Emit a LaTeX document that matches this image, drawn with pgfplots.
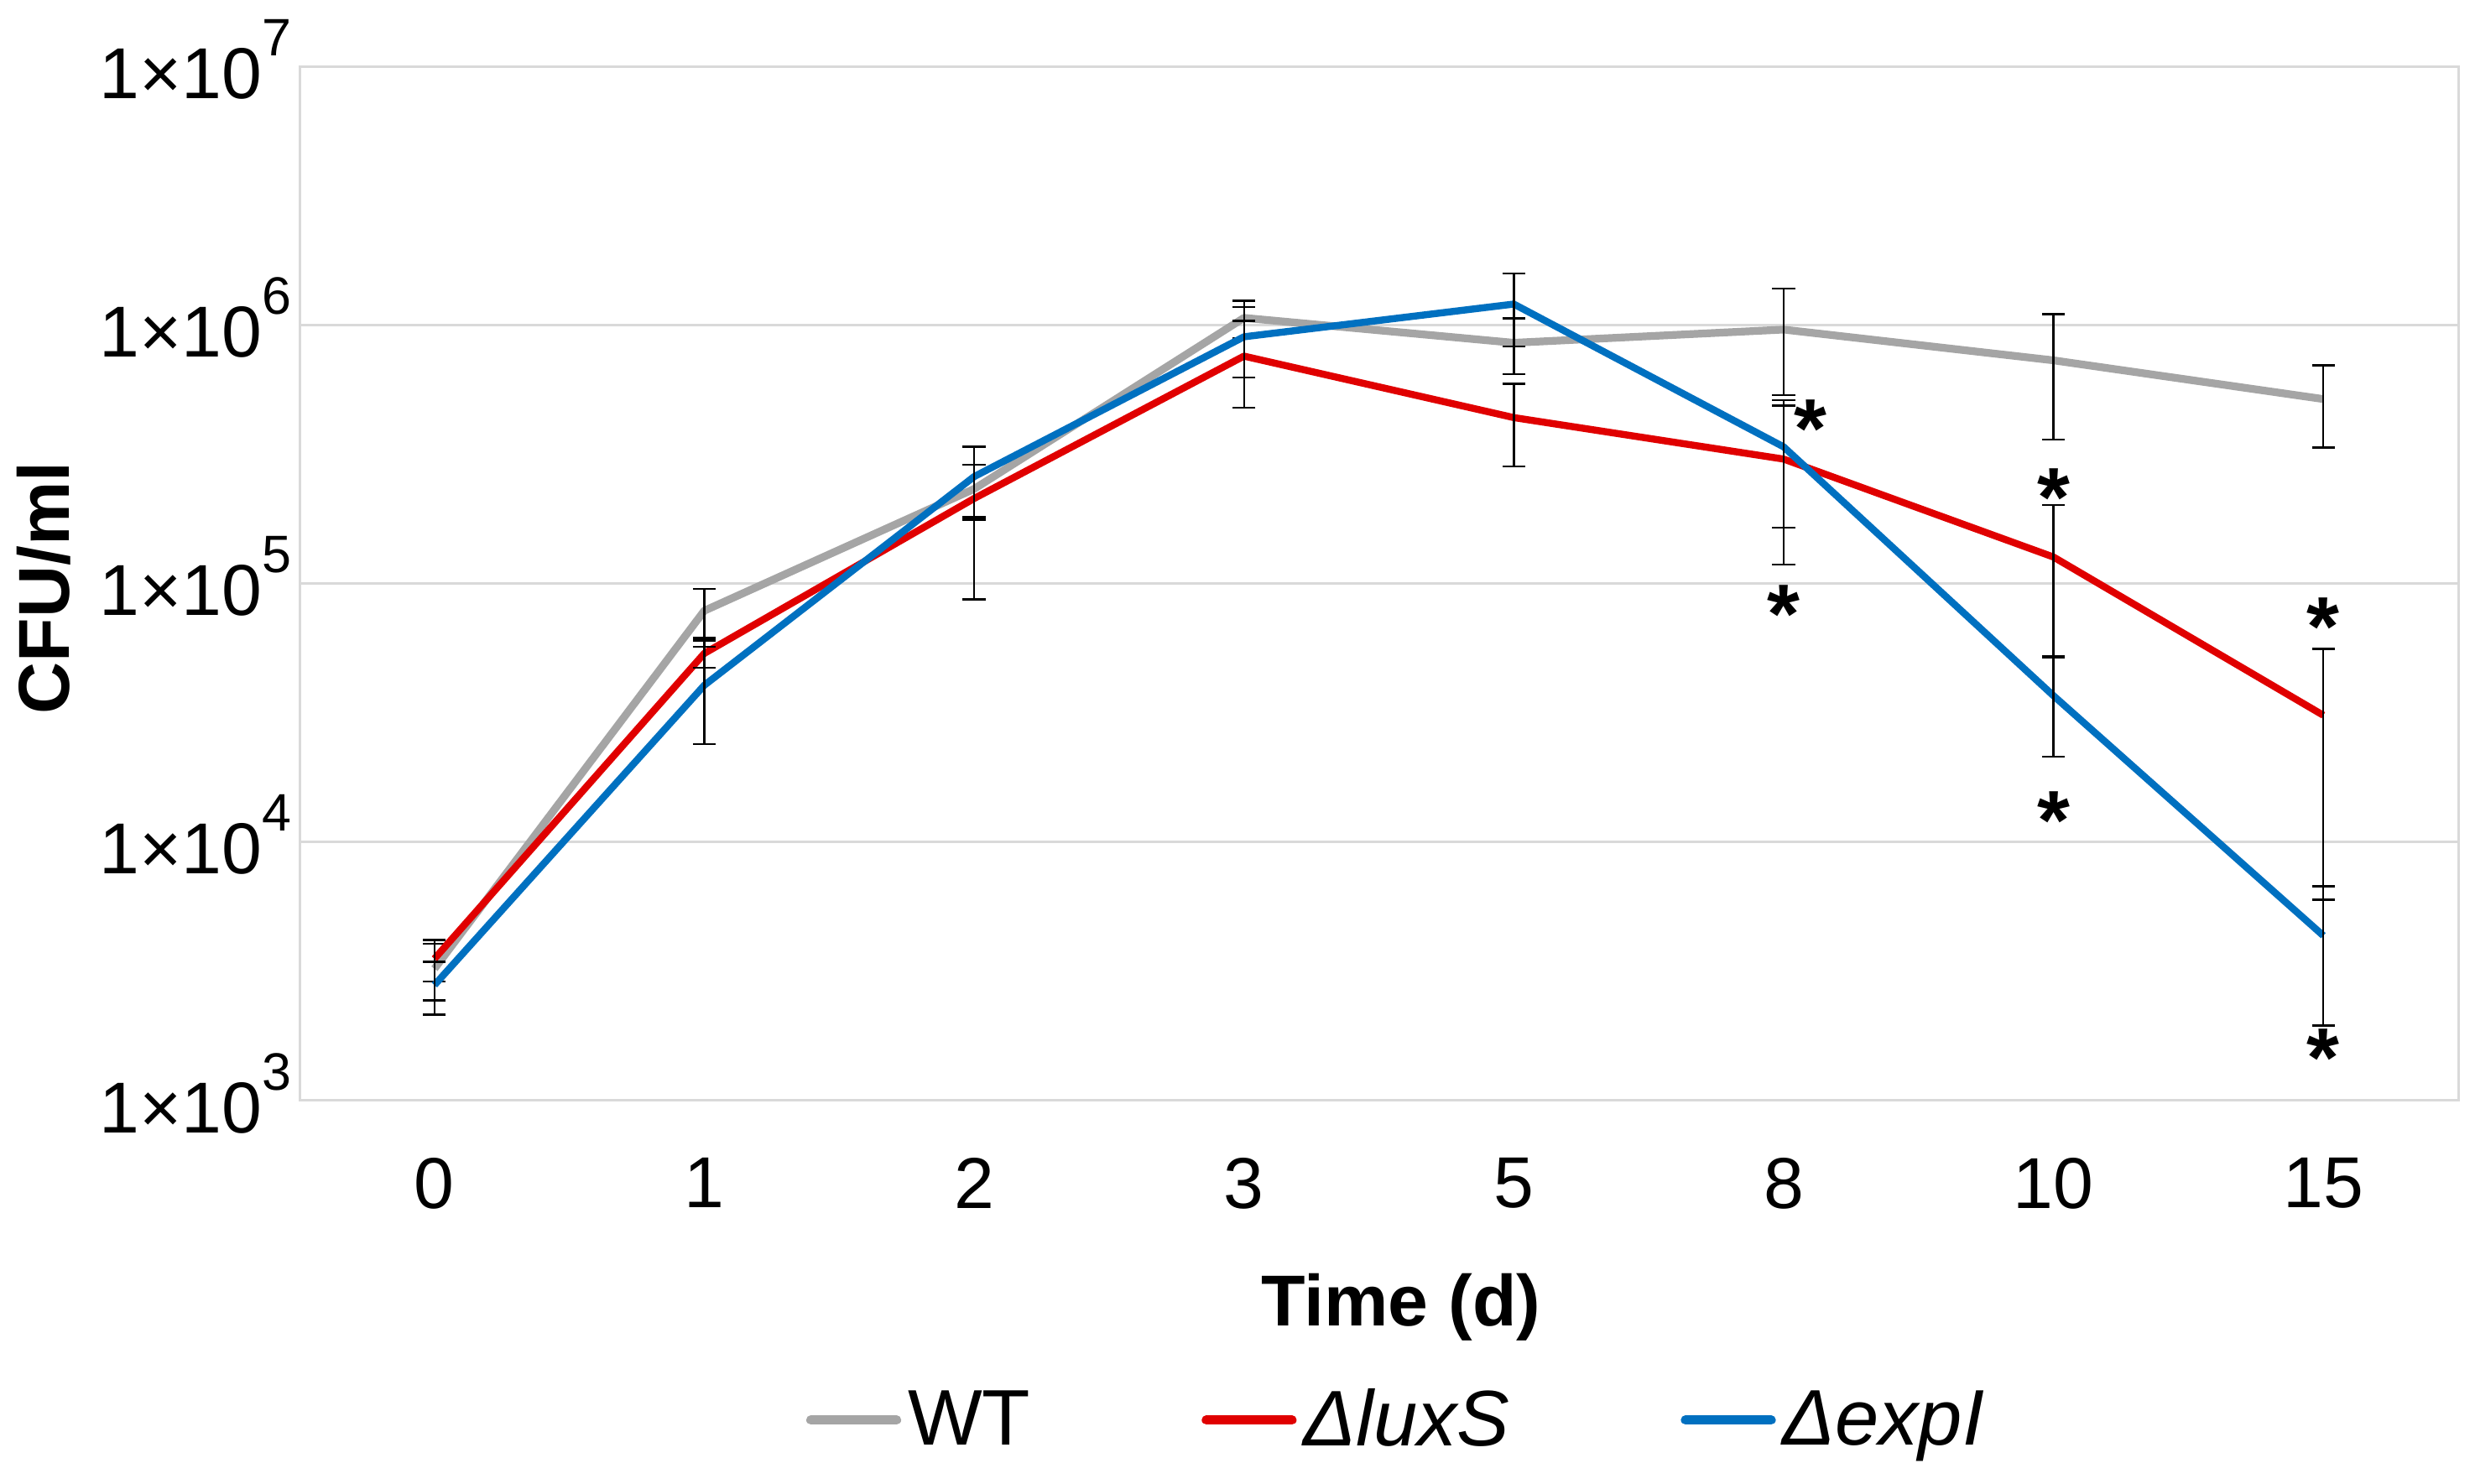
\documentclass[border=0pt]{standalone}
\usepackage{pgfplots}
\pgfplotsset{compat=1.18}
\usepackage{pgfplotstable}
\usepackage{fontspec}
\setmainfont{Liberation Sans}
\definecolor{wtgray}{RGB}{165,165,165}
\definecolor{luxred}{RGB}{224,0,0}
\definecolor{expblue}{RGB}{0,112,192}
\definecolor{gridgray}{RGB}{217,217,217}
\newcommand{\pw}[1]{1×10\raisebox{12.75pt}{\fontsize{15.7pt}{16pt}\selectfont #1}}

\pgfplotstableread{
x y e
0 3240 800
1 78700 17000
2 233000 56000
3 1070000 175000
4 857000 210000
5 964000 426000
6 733000 372000
7 519000 182000
}\wt
\pgfplotstableread{
x y e
0 3540 650
1 53800 6500
2 214000 127000
3 761000 280000
4 440000 155000
5 304000 185000
6 127000 75000
7 31000 25000
}\lux
\pgfplotstableread{
x y e
0 2800 650
1 40500 16500
2 260000 79000
3 904000 276000
4 1210000 380000
5 339000 174000
6 36900 15500
7 4350 2400
}\expi

\begin{document}
\begin{tikzpicture}
\path[use as bounding box] (0,0) rectangle (737.5pt,442pt);
\begin{axis}[
  at={(89.25pt,114pt)}, anchor=south west,
  scale only axis, width=643.25pt, height=308pt,
  ymode=log, ymin=1e3, ymax=1e7, xmin=-0.5, xmax=7.5,
  xtick={0,1,2,3,4,5,6,7}, xticklabels={0,1,2,3,5,8,10,15},
  ytick={1e3,1e4,1e5,1e6,1e7},
  yticklabels={\pw{3},\pw{4},\pw{5},\pw{6},\pw{7}},
  major tick length=0pt, yminorticks=false,
  ymajorgrids, grid style={gridgray, line width=0.75pt},
  axis line style={gridgray, line width=0.75pt},
  tick label style={font=\fontsize{21.5pt}{24pt}\selectfont},
  yticklabel style={anchor=base east, inner sep=0pt, xshift=-2.25pt, yshift=-9.5pt},
  xticklabel style={anchor=north, inner sep=0pt, yshift=-17pt},
  clip=false,
  legend columns=3,
  legend cell align=left,
  legend style={draw=none, fill=none, inner sep=0pt,
    at={(axis description cs:0.2344,-0.309)}, anchor=west,
    font=\fontsize{23.5pt}{26pt}\selectfont,
    nodes={inner sep=0pt},
    /tikz/every odd column/.append style={column sep=2pt},
    /tikz/every even column/.append style={column sep=51pt}},
  legend image code/.code={\draw[#1, line width=2.75pt, line cap=round] (0.6pt,0pt) -- (26.15pt,0pt);},
  error bars/y dir=both, error bars/y explicit,
  error bars/error bar style={black, line width=0.6pt, line cap=butt},
  error bars/error mark options={rotate=90, black, mark size=3.4pt, line width=0.6pt},
]
\addplot[wtgray, line width=2.3pt, line join=round] table[x=x,y=y,y error=e]{\wt};
\addlegendentry{WT}
\addplot[luxred, line width=2.1pt, line join=round] table[x=x,y=y,y error=e]{\lux};
\addlegendentry{\textit{ΔluxS}}
\addplot[expblue, line width=2.1pt, line join=round] table[x=x,y=y,y error=e]{\expi};
\addlegendentry{\textit{ΔexpI}}

\begin{scope}[every node/.style={font=\bfseries\fontsize{25pt}{25pt}\selectfont, anchor=base, yshift=-12pt, inner sep=0pt}]
\node at (axis cs:5.1,439500) {*};
\node at (axis cs:5,84200) {*};
\node at (axis cs:6,238000) {*};
\node at (axis cs:6,13400) {*};
\node at (axis cs:7,75300) {*};
\node at (axis cs:7,1625) {*};
\end{scope}
\end{axis}
\node[font=\bfseries\fontsize{21.5pt}{24pt}\selectfont, anchor=base] at (417.5pt,47pt) {Time (d)};
\node[font=\bfseries\fontsize{21.5pt}{24pt}\selectfont, anchor=base, rotate=90] at (20.5pt,266.75pt) {CFU/ml};
\end{tikzpicture}
\end{document}
